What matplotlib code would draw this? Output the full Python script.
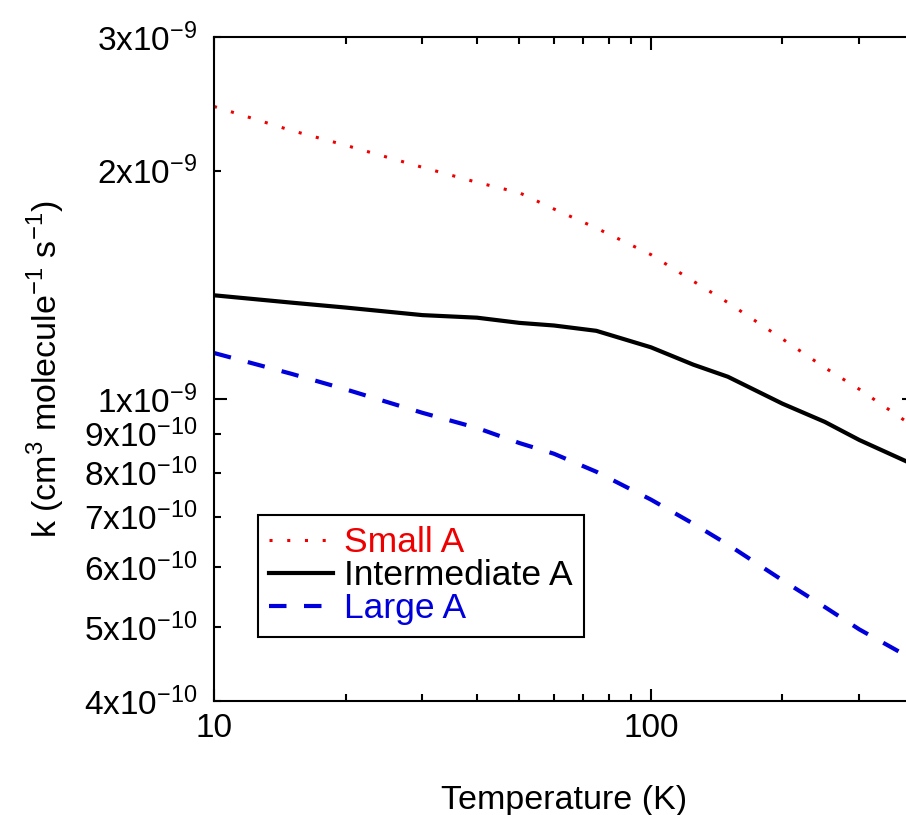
import numpy as np
import matplotlib
matplotlib.use('Agg')
import matplotlib.pyplot as plt
from matplotlib.ticker import FixedLocator, FixedFormatter, NullFormatter

plt.rcParams['font.family'] = ['Liberation Sans', 'DejaVu Sans']
plt.rcParams['mathtext.fontset'] = 'custom'
plt.rcParams['mathtext.rm'] = 'Liberation Sans'

# temperature grid (K) and rate coefficients (cm3 molecule-1 s-1)
temperature = [10, 15, 20, 30, 40, 50, 60, 75, 100, 125, 150, 200, 250, 300, 400]
k_small = [2.43e-9, 2.26e-9, 2.16e-9, 2.02e-9, 1.93e-9, 1.87e-9, 1.78e-9, 1.68e-9,
           1.55e-9, 1.43e-9, 1.34e-9, 1.20e-9, 1.10e-9, 1.03e-9, 0.919e-9]
k_inter = [1.37e-9, 1.34e-9, 1.32e-9, 1.29e-9, 1.28e-9, 1.26e-9, 1.25e-9, 1.23e-9,
           1.17e-9, 1.11e-9, 1.07e-9, 0.986e-9, 0.933e-9, 0.883e-9, 0.819e-9]
k_large = [1.15e-9, 1.08e-9, 1.03e-9, 0.959e-9, 0.916e-9, 0.875e-9, 0.847e-9, 0.802e-9,
           0.737e-9, 0.685e-9, 0.643e-9, 0.577e-9, 0.532e-9, 0.497e-9, 0.453e-9]

ytick_vals = [4e-10, 5e-10, 6e-10, 7e-10, 8e-10, 9e-10, 1e-9, 2e-9, 3e-9]
ytick_labels = [r'$\mathregular{4x10^{-10}}$', r'$\mathregular{5x10^{-10}}$',
                r'$\mathregular{6x10^{-10}}$', r'$\mathregular{7x10^{-10}}$',
                r'$\mathregular{8x10^{-10}}$', r'$\mathregular{9x10^{-10}}$',
                r'$\mathregular{1x10^{-9}}$', r'$\mathregular{2x10^{-9}}$',
                r'$\mathregular{3x10^{-9}}$']

red = '#EE0000'
blue = '#0000DD'

fig = plt.figure(figsize=(9.06, 8.15), dpi=100)
ax = fig.add_axes([0.2362, 0.1399, 0.7726, 0.8147])

ax.plot(temperature, k_small, color=red, lw=2.2, dashes=(1, 4.8), label='Small A')
ax.plot(temperature, k_inter, color='black', lw=3, label='Intermediate A')
ax.plot(temperature, k_large, color=blue, lw=3, dashes=(4.2, 4.2), label='Large A')

ax.set_xscale('log')
ax.set_yscale('log')
ax.set_xlim(10, 400)
ax.set_ylim(4e-10, 3e-9)

# x ticks
ax.xaxis.set_major_locator(FixedLocator([10, 100]))
ax.xaxis.set_major_formatter(FixedFormatter(['10', '100']))
ax.xaxis.set_minor_locator(FixedLocator([20, 30, 40, 50, 60, 70, 80, 90, 200, 300]))
ax.xaxis.set_minor_formatter(NullFormatter())

# y ticks: only 1e-9 gets the long tick, all get labels
maj = [v for v in ytick_vals if v == 1e-9]
mn = [v for v in ytick_vals if v != 1e-9]
ax.yaxis.set_major_locator(FixedLocator(maj))
ax.yaxis.set_major_formatter(FixedFormatter([ytick_labels[ytick_vals.index(v)] for v in maj]))
ax.yaxis.set_minor_locator(FixedLocator(mn))
ax.yaxis.set_minor_formatter(FixedFormatter([ytick_labels[ytick_vals.index(v)] for v in mn]))

ax.tick_params(which='both', direction='in', top=True, right=True, width=1.5, labelsize=24)
ax.tick_params(which='major', length=9)
ax.tick_params(which='minor', length=5)
ax.tick_params(axis='x', which='both', pad=9)
ax.tick_params(axis='y', which='both', pad=12)
for s in ax.spines.values():
    s.set_linewidth(1.5)

ax.set_xlabel('Temperature (K)', fontsize=24.5, labelpad=29)
ax.set_ylabel(r'k (cm$^\mathregular{3}$ molecule$^\mathregular{-1}$ s$^\mathregular{-1}$)',
              fontsize=24.5, labelpad=12)

leg = ax.legend(loc='upper left', bbox_to_anchor=(0.2848, 0.3681), bbox_transform=fig.transFigure,
                borderaxespad=0, fontsize=25.5, handlelength=1.8, handletextpad=0.3,
                labelspacing=0.0, borderpad=0.32, fancybox=False, framealpha=1,
                edgecolor='black')
leg.get_frame().set_linewidth(1.5)
for txt, c in zip(leg.get_texts(), [red, 'black', blue]):
    txt.set_color(c)

fig.savefig('out.png', dpi=100)
